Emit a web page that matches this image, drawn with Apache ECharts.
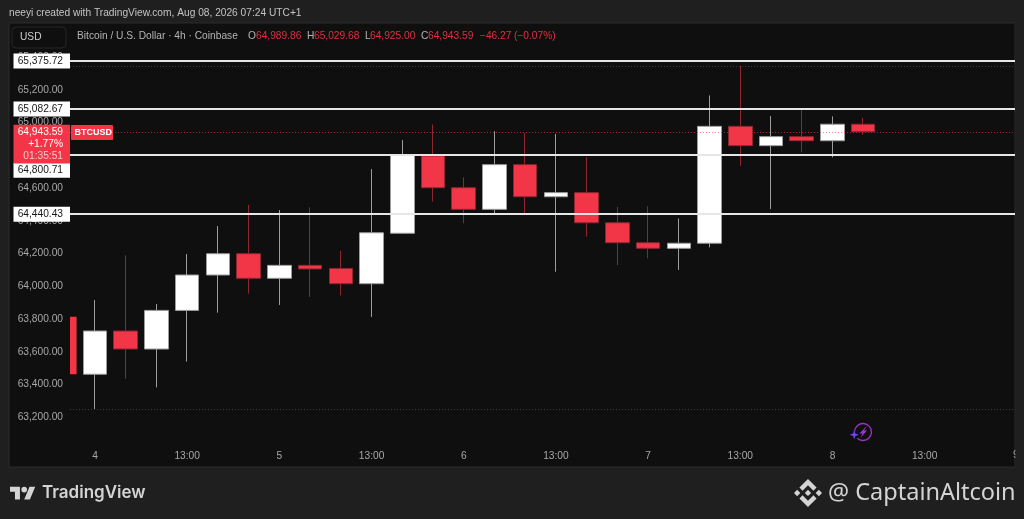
<!DOCTYPE html>
<html><head><meta charset="utf-8">
<style>html,body{margin:0;padding:0;background:#1f1f1f}#c{width:1024px;height:519px}</style>
<script src="https://cdn.jsdelivr.net/npm/echarts@6/dist/echarts.min.js"></script>
</head><body><div id="c"></div>
<script>
var candleSlots=[0,1,2,3,4,5,6,7,8,9,10,11,12,13,14,15,16,17,18,19,20,21,22,23,24,25];
var opens =[63463,63727,63617,63853,64069,64199,64049,64128,64109,64016,64324,64796,64602,64470,64743,64547,64572,64388,64266,64232,64263,64977,64859,64914,64889,64989.86];
var closes=[63727,63617,63853,64069,64199,64049,64128,64106,64016,64327,64802,64602,64470,64743,64547,64572,64388,64266,64232,64263,64977,64859,64914,64889,64989.86,64943.59];
var lows  =[63249,63436,63383,63540,63839,63955,63886,63935,63945,63813,64320,64517,64385,64442,64435,64089,64303,64130,64171,64100,64238,64735,64472,64818,64788,64925];
var highs =[63916,64189,63892,64197,64368,64497,64466,64482,64216,64716,64893,64989,64666,64947,64938,64930,64788,64484,64489,64415,65166,65347,65040,65077,65038,65029.68];
var offscreenCandle=[-1,63814,63463];
var levels=[65375.72,65082.67,64800.71,64440.43];
var lastPrice=64943.59, sessionHigh=65347, sessionLow=63249;
var priceTicks=[63200,63400,63600,63800,64000,64200,64400,64600,64800,65000,65200,65400];
var timeSlots=[0,3,6,9,12,15,18,21,24,27];
var timeLabels=['4','13:00','5','13:00','6','13:00','7','13:00','8','13:00'];
var FONT='Liberation Sans', FS=10.2;
function fmt(v){return v.toLocaleString('en-US',{minimumFractionDigits:2,maximumFractionDigits:2});}
var candles=candleSlots.map(function(s,i){return [s,opens[i],closes[i],lows[i],highs[i]];});
echarts.graphic.registerShape('tvLogo',echarts.graphic.extendPath('M14 22H7V11H0V4h14v18zM28 22h-8l7.5-18h8L28 22zM16 8a4 4 0 1 0 8 0a4 4 0 1 0 -8 0z',{}));
echarts.graphic.registerShape('bnLogo',echarts.graphic.extendPath('M16.624 13.92l2.718 2.716-7.353 7.353-7.353-7.352 2.717-2.717 4.636 4.66 4.635-4.66zm4.637-4.66L24 12l-2.716 2.74L18.568 12l2.693-2.74zm-9.272 0l2.716 2.692-2.717 2.717L9.272 12l2.716-2.74zm-9.273 0L5.41 12l-2.692 2.692L0 12l2.716-2.74zM11.989.011l7.353 7.33-2.717 2.715-4.636-4.636-4.635 4.66-2.717-2.717L11.989.011z',{}));
echarts.graphic.registerShape('spark',echarts.graphic.extendPath('M5 0L6.2 3.8L10 5L6.2 6.2L5 10L3.8 6.2L0 5L3.8 3.8z',{}));
var chart=echarts.init(document.getElementById('c'),null,{renderer:'canvas'});
function T(x,y,text,style){return {type:'text',x:x,y:y,z:style.z||5,silent:true,style:Object.assign({text:text,fontFamily:FONT,fontSize:FS,verticalAlign:'middle'},style)};}
chart.setOption({
 animation:false,
 backgroundColor:'#1f1f1f',
 grid:{left:70,right:9,top:24,bottom:52,containLabel:false},
 xAxis:{type:'value',min:-0.8135,max:29.94,splitLine:{show:false},axisLine:{show:false},axisTick:{show:false},
  axisLabel:{inside:true,margin:6,customValues:timeSlots,color:'#a8a8a8',fontSize:FS,fontFamily:FONT,
   formatter:function(v){var i=timeSlots.indexOf(v);return i<0?'':timeLabels[i];}}},
 yAxis:{type:'value',min:62896.5,max:65602,position:'left',splitLine:{show:false},axisLine:{show:false},axisTick:{show:false},
  axisLabel:{margin:7,customValues:priceTicks,color:'#a8a8a8',fontSize:FS,fontFamily:FONT,formatter:function(v){return fmt(v);}}},
 series:[
  {type:'line',data:[],z:1,silent:true,markLine:{silent:true,symbol:'none',animation:false,
    lineStyle:{color:'#e6e6e6',width:2,type:'solid'},
    label:{show:true,position:'start',distance:0,backgroundColor:'#ffffff',color:'#161616',fontSize:FS,fontFamily:FONT,width:49.5,height:13,lineHeight:13,padding:[1,7,1,0],verticalAlign:'middle'},
    data:levels.map(function(v,i){return {yAxis:v,label:{formatter:fmt(v),offset:i===2?[0,15]:[0,0]}};})}},
  {type:'line',data:[],z:1,silent:true,markLine:{silent:true,symbol:'none',animation:false,
    lineStyle:{color:'#3c3c3c',width:1,type:[1,2]},label:{show:false},
    data:[{yAxis:sessionHigh},{yAxis:sessionLow}]}},
  {type:'candlestick',z:3,barWidth:24,silent:true,encode:{x:0,y:[1,2,3,4]},data:candles,
   itemStyle:{color:'#ffffff',color0:'#f23648',borderColor:'#9c9c9c',borderColor0:'#8e2632',borderWidth:1}},
  {type:'custom',z:3,silent:true,encode:{x:0,y:[1,2]},data:[offscreenCandle],clip:true,
   renderItem:function(params,api){
     var a=api.coord([api.value(0),api.value(1)]),b=api.coord([api.value(0),api.value(2)]);
     var r=echarts.graphic.clipRectByRect({x:a[0]-12.3,y:a[1],width:24.6,height:b[1]-a[1]},params.coordSys);
     return r&&{type:'rect',shape:r,style:{fill:'#f23648'}};
   }},
  {type:'line',data:[],z:6,silent:true,markLine:{silent:true,symbol:'none',animation:false,
    lineStyle:{color:'rgba(242,54,72,.6)',width:1,type:[1,2]},
    label:{show:true,position:'start',distance:0,backgroundColor:'#f23648',offset:[0,12.3],width:49.5,padding:[1,7,1,0],
      formatter:'{a|'+fmt(lastPrice)+'}\n{b|+1.77%}\n{c|01:35:51}',
      rich:{a:{color:'#fff',fontSize:FS,fontFamily:FONT,lineHeight:12.3,align:'right'},b:{color:'#fff',fontSize:FS,fontFamily:FONT,lineHeight:12.3,align:'right'},c:{color:'#fbc4c9',fontSize:FS,fontFamily:FONT,lineHeight:12.3,align:'right'}}},
    data:[{yAxis:lastPrice}]}}
 ],
 graphic:[
  {type:'rect',z:-10,silent:true,shape:{x:9,y:23,width:1006,height:444},style:{fill:'#0f0f0f',stroke:'#2c2c2c',lineWidth:1}},
  T(9,13,'neeyi created with TradingView.com, Aug 08, 2026 07:24 UTC+1',{fill:'#c4c4c4'}),
  {type:'rect',z:5,silent:true,shape:{x:12,y:27,width:54,height:21,r:4},style:{fill:'#0f0f0f',stroke:'#262626',lineWidth:1}},
  T(20,37.5,'USD',{fill:'#cfcfcf'}),
  T(77,36,'Bitcoin / U.S. Dollar · 4h · Coinbase',{fill:'#b4b4b4'}),
  T(248,36,'O',{fill:'#b4b4b4'}),T(256,36,'64,989.86',{fill:'#e0303f'}),
  T(307,36,'H',{fill:'#b4b4b4'}),T(314,36,'65,029.68',{fill:'#e0303f'}),
  T(365,36,'L',{fill:'#b4b4b4'}),T(370,36,'64,925.00',{fill:'#e0303f'}),
  T(421,36,'C',{fill:'#b4b4b4'}),T(428,36,'64,943.59',{fill:'#e0303f'}),
  T(480,36,'−46.27',{fill:'#e0303f'}),T(514,36,'(−0.07%)',{fill:'#e0303f'}),
  {type:'rect',z:7,silent:true,shape:{x:71,y:125,width:42,height:15,r:1},style:{fill:'#f23648'}},
  T(74.5,132.8,'BTCUSD',{fill:'#fff',fontSize:9,fontWeight:600,z:8}),
  T(1013,455,'9',{fill:'#a8a8a8',z:1}),
  {type:'rect',z:2,silent:true,shape:{x:1015.5,y:23,width:9,height:444},style:{fill:'#1f1f1f'}},
  {type:'tvLogo',z:5,silent:true,x:10,y:483.9,scaleX:.71,scaleY:.71,style:{fill:'#d4d4d4'}},
  T(42,493,'TradingView',{fill:'#d4d4d4',fontSize:17,fontWeight:600,fontFamily:'Inter'}),
  {type:'bnLogo',z:5,silent:true,x:794,y:479,scaleX:1.167,scaleY:1.167,style:{fill:'#d4d4d4'}},
  T(828,493,'@ CaptainAltcoin',{fill:'#d4d4d4',fontSize:23.5,fontFamily:'Noto Sans'}),
  {type:'arc',z:5,silent:true,shape:{cx:863,cy:432,r:8.5,startAngle:3.2,endAngle:2.3,clockwise:true},style:{fill:'none',stroke:'#9c35c4',lineWidth:1.3}},
  {type:'polygon',z:5,silent:true,shape:{points:[[867,425.5],[859.5,433.5],[862.5,433.5],[860.5,438],[867,430.5],[864,430.5]]},style:{fill:'#9c35c4'}},
  {type:'spark',z:6,silent:true,x:849.5,y:430,scaleX:.95,scaleY:.95,style:{fill:'#6a45f0'}}
 ]
});
</script></body></html>
